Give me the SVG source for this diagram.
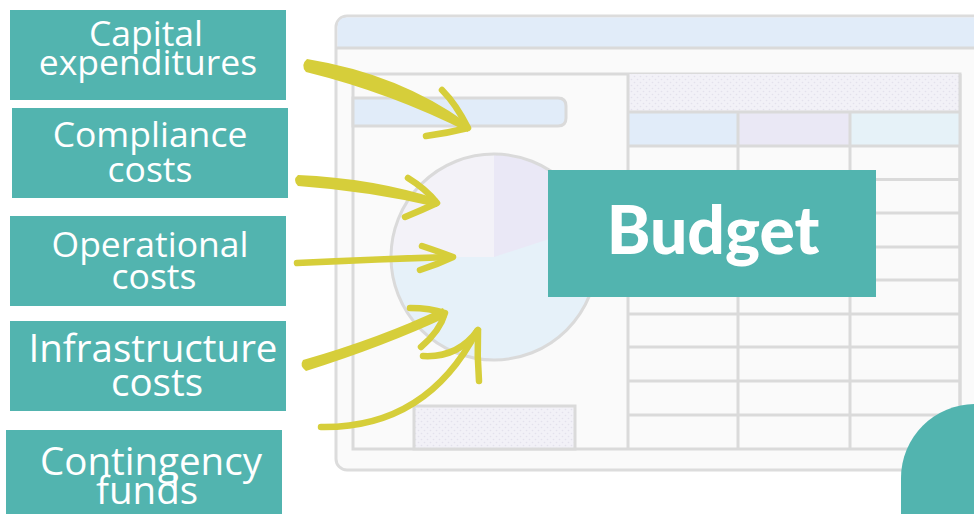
<svg xmlns="http://www.w3.org/2000/svg" width="974" height="514" viewBox="0 0 974 514">
<style>
.box{fill:#52B4AF}
.lbl{font-family:"Open Sans","Liberation Sans",sans-serif;fill:#FFFFFF;text-anchor:middle;font-size:35.5px}
.big{font-size:38.5px}
.ln{fill:none;stroke:#DADADA;stroke-width:3}
.shaft{fill:#D6CE3A}
.bar{fill:none;stroke:#D6CE3A;stroke-linecap:round;stroke-linejoin:round;stroke-width:6.5}
</style>
<defs>
<pattern id="dots" width="6" height="6" patternUnits="userSpaceOnUse">
<rect width="6" height="6" fill="#F2F1F7"/>
<circle cx="1.5" cy="1.5" r="0.8" fill="#E3E1EC"/>
<circle cx="4.5" cy="4.5" r="0.8" fill="#E3E1EC"/>
</pattern>
</defs>
<rect width="974" height="514" fill="#FFFFFF"/>
<g id="spreadsheet">
<rect x="336" y="16" width="700" height="454" rx="11" fill="#FAFAFA" stroke="#DCDCDC" stroke-width="3"/>
<path d="M337.5,48 V27 Q337.5,17.5 347,17.5 H974 V48 Z" fill="#E1ECF9"/>
<line x1="336" y1="48" x2="974" y2="48" class="ln"/>
<rect x="353" y="74" width="607" height="375" class="ln"/>
<path d="M353,98 H558 Q566,98 566,106 V118 Q566,126 558,126 H353 Z" fill="#E1ECF9" stroke="#DADADA" stroke-width="3"/>
<rect x="414" y="406" width="161" height="43" fill="url(#dots)" stroke="#DADADA" stroke-width="3"/>
<circle cx="494" cy="257" r="103" fill="#E6F1F9"/>
<path d="M494,257 L391,257 A103,103 0 0 1 494,154 Z" fill="#F3F2F8"/>
<path d="M494,257 L494,154 A103,103 0 0 1 592,225 Z" fill="#EAE8F6"/>
<circle cx="494" cy="257" r="103" class="ln"/>
<rect x="628" y="74" width="332" height="38" fill="url(#dots)"/>
<rect x="628" y="112" width="110" height="34" fill="#E1ECF9"/>
<rect x="738" y="112" width="112" height="34" fill="#EAE8F5"/>
<rect x="850" y="112" width="110" height="34" fill="#E6F2F8"/>
<path class="ln" d="M628,74 V449 M738,112 V449 M850,112 V449 M628,112 H960 M628,146 H960 M628,179.5 H960 M628,213 H960 M628,247 H960 M628,280 H960 M628,314 H960 M628,347 H960 M628,381 H960 M628,415 H960 M960,74 V449"/>
</g>
<path id="corner" d="M901,514 V478 A74,74 0 0 1 975,404 V514 Z" fill="#52B4AF"/>
<g id="node-capital">
<rect class="box" x="10" y="10" width="276" height="90"/>
<text class="lbl" x="146" y="46">Capital</text>
<text class="lbl" x="148" y="75">expenditures</text>
</g>
<g id="node-compliance">
<rect class="box" x="12" y="108" width="276" height="90"/>
<text class="lbl" x="150" y="147">Compliance</text>
<text class="lbl" x="150" y="182">costs</text>
</g>
<g id="node-operational">
<rect class="box" x="10" y="216" width="276" height="90"/>
<text class="lbl" x="150" y="257">Operational</text>
<text class="lbl" x="154" y="289">costs</text>
</g>
<g id="node-infrastructure">
<rect class="box" x="10" y="321" width="276" height="90"/>
<text class="lbl big" x="153" y="362">Infrastructure</text>
<text class="lbl big" x="157" y="396">costs</text>
</g>
<g id="node-contingency">
<rect class="box" x="6" y="430" width="276" height="90"/>
<text class="lbl big" x="151" y="475">Contingency</text>
<text class="lbl big" x="147" y="504">funds</text>
</g>
<g id="node-budget">
<rect class="box" x="548" y="170" width="328" height="127"/>
<text x="713" y="254" font-family="Lato,'Open Sans','Liberation Sans',sans-serif" font-weight="900" font-size="66" fill="#FFFFFF" text-anchor="middle">Budget</text>
</g>
<g id="connectors">
<path class="shaft" d="M307,59 Q399,74 467,123 L468,132 Q391,93 306,72 Q300,65 307,59 Z"/>
<path class="bar" d="M442,90 Q456,104 468,128 Q448,133 426,136"/>
<path class="shaft" d="M298,175 Q372,178 438,199 L437,207 Q368,191 298,186 Q292,180 298,175 Z"/>
<path class="bar" d="M408,178 Q426,189 437,203 Q422,210 405,217"/>
<path class="bar" stroke-width="5.5" d="M297,263 Q380,259 451,257"/>
<path class="bar" d="M422,246 Q440,252 453,257 Q436,265 420,270"/>
<path class="shaft" d="M303,360 Q380,338 443,308 L447,317 Q385,346 306,371 Q299,366 303,360 Z"/>
<path class="bar" d="M410,308 Q430,308 445,313 Q440,331 421,347"/>
<path class="bar" stroke-width="6" d="M321,427 C386,428 441,400 477,331"/>
<path class="bar" d="M478,330 Q458,358 423,356 M478,331 Q477,356 479,381"/>
</g>
</svg>
